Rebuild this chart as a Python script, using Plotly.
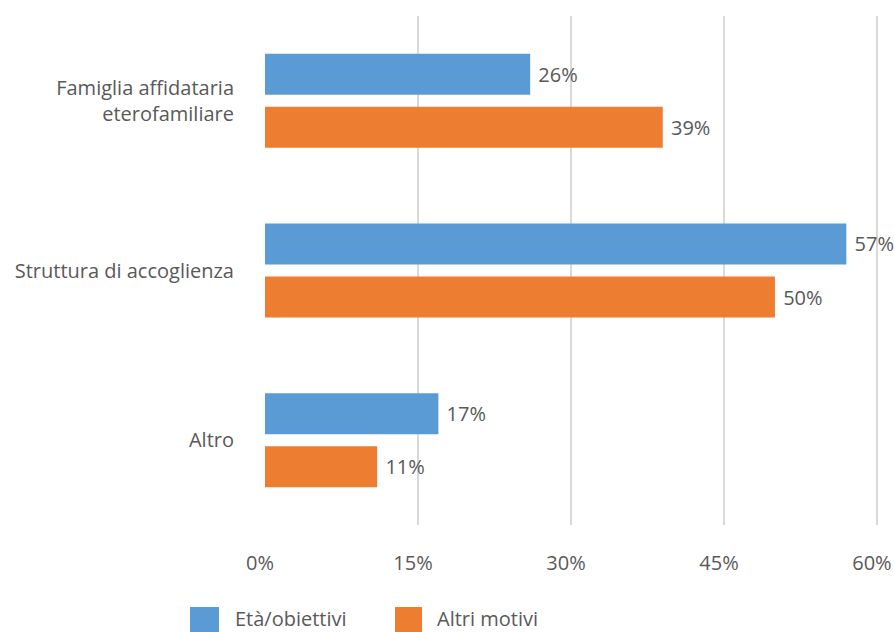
import plotly.graph_objects as go

# Categories (top to bottom) and shares in percent
categories = ["Famiglia affidataria<br>eterofamiliare", "Struttura di accoglienza", "Altro"]
series_names = ["Età/obiettivi", "Altri motivi"]
eta_obiettivi = [26, 57, 17]
altri_motivi = [39, 50, 11]
x_ticks = [0, 15, 30, 45, 60]
x_tick_labels = ["0%", "15%", "30%", "45%", "60%"]

FONT = "Open Sans"
GREY = "#595959"
COLORS = ["#5B9BD5", "#ED7D31"]
FS = 20

# plot-area geometry (pixels) used to place the custom legend
W, H = 894, 632
L, R, T, B = 265, 14, 16, 107
PW, PH = W - L - R, H - T - B


def px_x(px):
    return (px - L) / PW


def px_y(py):
    return (H - B - py) / PH


fig = go.Figure()
for name, vals, col in zip(series_names, [eta_obiettivi, altri_motivi], COLORS):
    fig.add_trace(go.Bar(
        name=name, y=categories, x=vals, orientation="h",
        marker=dict(color=col, line=dict(width=0)),
        text=[f"\u00a0{v}%" for v in vals], textposition="outside",
        textfont=dict(family=FONT, size=FS, color=GREY), cliponaxis=False,
        showlegend=False,
    ))

# legend: large colour squares followed by the series names
shapes, annotations = [], []
legend_items = [(190, 219, 234), (395, 422, 436)]
for (x0, x1, tx), name, col in zip(legend_items, series_names, COLORS):
    shapes.append(dict(type="rect", xref="paper", yref="paper",
                       x0=px_x(x0), x1=px_x(x1), y0=px_y(607), y1=px_y(637),
                       fillcolor=col, line=dict(width=0), layer="above"))
    annotations.append(dict(text=name, xref="paper", yref="paper",
                            x=px_x(tx), y=px_y(618), xanchor="left", yanchor="middle",
                            showarrow=False, borderpad=0,
                            font=dict(family=FONT, size=FS, color=GREY)))

fig.update_layout(
    width=W, height=H,
    margin=dict(l=L, r=R, t=T, b=B, autoexpand=False),
    paper_bgcolor="white", plot_bgcolor="white",
    barmode="group", bargap=0.375, bargroupgap=0.226,
    font=dict(family=FONT, size=FS, color=GREY),
    showlegend=False,
    shapes=shapes, annotations=annotations,
    xaxis=dict(range=[0, 60.3], tickvals=x_ticks, ticktext=x_tick_labels,
               showgrid=True, gridcolor="#d9d9d9", gridwidth=1.5,
               zeroline=False, showline=False, ticks="",
               ticklabelstandoff=24, ticklabelshift=-5, automargin=False,
               ticklabeloverflow="allow",
               tickfont=dict(family=FONT, size=FS, color=GREY)),
    yaxis=dict(autorange="reversed", showgrid=False, zeroline=False,
               showline=False, ticks="", ticklabelstandoff=30, automargin=False,
               tickfont=dict(family=FONT, size=FS, color=GREY)),
)

fig.write_html("out.html")
